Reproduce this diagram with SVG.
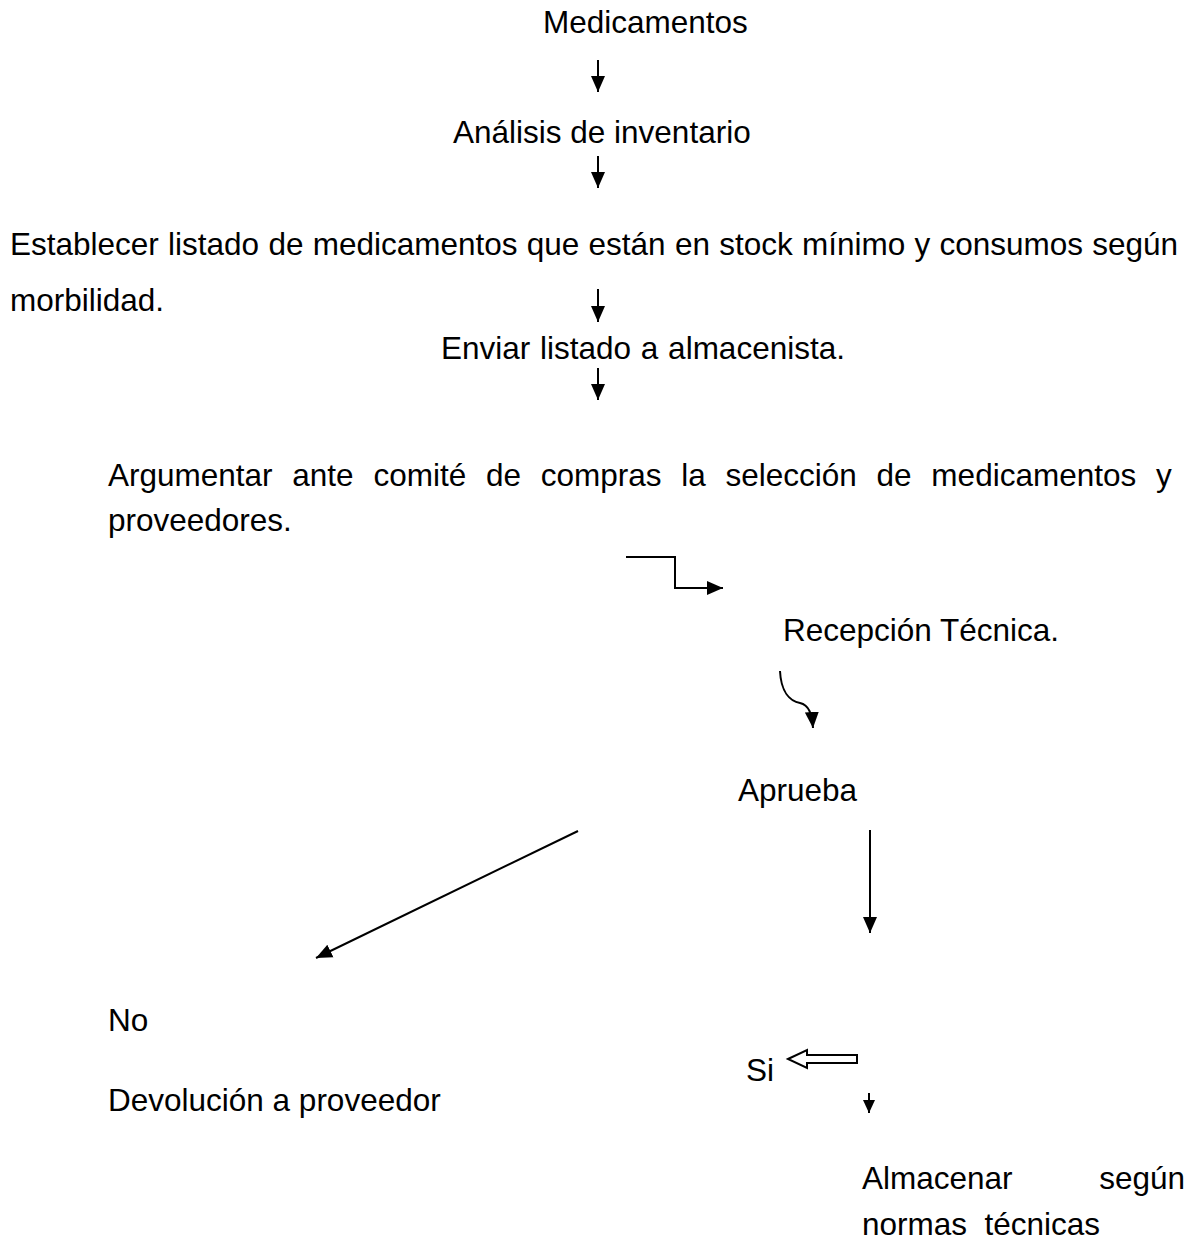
<svg xmlns="http://www.w3.org/2000/svg" width="1199" height="1251" viewBox="0 0 1199 1251">
<style>
text{font-family:"Liberation Sans",Arial,sans-serif;font-size:31.5px;fill:#000;white-space:pre}
.c{fill:none;stroke:#000;stroke-width:2}
</style>
<defs>
<marker id="ah" markerUnits="userSpaceOnUse" markerWidth="16" markerHeight="16" viewBox="0 0 16 14" refX="16" refY="7" orient="auto">
<path d="M0,0 L16,7 L0,14 z" fill="#000"/>
</marker>
<marker id="ahs" markerUnits="userSpaceOnUse" markerWidth="13" markerHeight="13" viewBox="0 0 13 12" refX="13" refY="6" orient="auto">
<path d="M0,0 L13,6 L0,12 z" fill="#000"/>
</marker>
</defs>
<rect width="1199" height="1251" fill="#fff"/>
<g id="n1"><text x="543" y="33">Medicamentos</text></g>
<g id="n2"><text x="453" y="143">Análisis de inventario</text></g>
<g id="n3"><text x="10" y="255" word-spacing="0.5">Establecer listado de medicamentos que están en stock mínimo y consumos según</text><text x="10" y="311">morbilidad.</text></g>
<g id="n4"><text x="441" y="359" word-spacing="1">Enviar listado a almacenista.</text></g>
<g id="n5"><text x="108" y="486" word-spacing="11">Argumentar ante comité de compras la selección de medicamentos y</text><text x="108" y="531">proveedores.</text></g>
<g id="n6"><text x="783" y="641">Recepción Técnica.</text></g>
<g id="n7"><text x="738" y="801">Aprueba</text></g>
<g id="n8"><text x="108" y="1031">No</text></g>
<g id="n9"><text x="108" y="1111">Devolución a proveedor</text></g>
<g id="n10"><text x="746" y="1081">Si</text></g>
<g id="n11"><text x="862" y="1189">Almacenar</text><text x="1185" y="1189" text-anchor="end">según</text><text x="862" y="1235">normas  técnicas</text></g>
<g id="connectors">
<line class="c" x1="598" y1="60" x2="598" y2="92" marker-end="url(#ah)"/>
<line class="c" x1="598" y1="156" x2="598" y2="188" marker-end="url(#ah)"/>
<line class="c" x1="598" y1="289" x2="598" y2="322" marker-end="url(#ah)"/>
<line class="c" x1="598" y1="368" x2="598" y2="400" marker-end="url(#ah)"/>
<path class="c" d="M626,557 L675,557 L675,588 L723,588" marker-end="url(#ah)"/>
<path class="c" d="M780,671 C781,692 790,701 800,703 C809,705 812,714 813,728" marker-end="url(#ah)"/>
<line class="c" x1="578" y1="831" x2="316" y2="958" marker-end="url(#ah)"/>
<line class="c" x1="870" y1="830" x2="870" y2="933" marker-end="url(#ah)"/>
<polygon class="c" fill="#fff" points="788,1059 807,1050 807,1055 857,1055 857,1063 807,1063 807,1068"/>
<line class="c" x1="869" y1="1093" x2="869" y2="1113" marker-end="url(#ahs)"/>
</g>
</svg>
